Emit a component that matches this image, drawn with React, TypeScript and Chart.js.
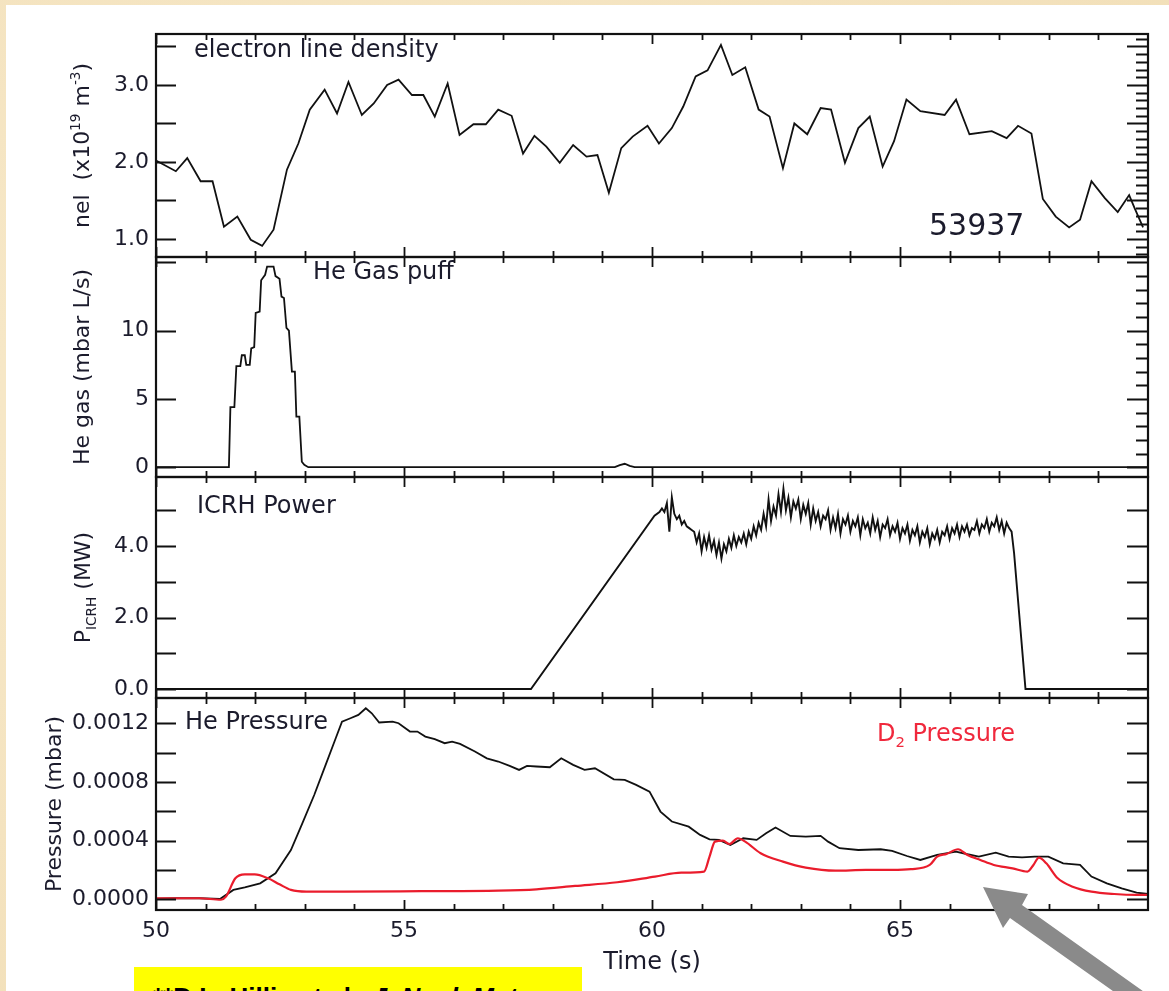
import React, { useEffect, useRef } from 'react';
import { Chart, registerables } from 'chart.js';

Chart.register(...registerables);

// ---------------- data ----------------
const TIME_MIN = 50;
const TIME_MAX = 70;
const TIME_TICKS = [50, 55, 60, 65];
const TIME_LABELS = ['50', '55', '60', '65'];
const TIME_MINOR = [51, 52, 53, 54, 56, 57, 58, 59, 61, 62, 63, 64, 66, 67, 68, 69];

// electron line density (1e19 m^-3)
const NEL_T = [50.0, 50.4, 50.63, 50.9, 51.14, 51.37, 51.64, 51.91, 52.14, 52.37, 52.64, 52.87, 53.1, 53.4, 53.65, 53.88, 54.15, 54.39, 54.66, 54.89, 55.16, 55.39, 55.62, 55.88, 56.12, 56.4, 56.65, 56.9, 57.17, 57.4, 57.63, 57.87, 58.14, 58.41, 58.68, 58.9, 59.13, 59.38, 59.61, 59.91, 60.14, 60.4, 60.63, 60.88, 61.12, 61.39, 61.62, 61.88, 62.15, 62.37, 62.64, 62.87, 63.13, 63.4, 63.61, 63.89, 64.16, 64.39, 64.65, 64.88, 65.13, 65.41, 65.9, 66.13, 66.4, 66.85, 67.15, 67.38, 67.65, 67.88, 68.14, 68.41, 68.63, 68.86, 69.13, 69.39, 69.62, 69.73, 69.9];
const NEL_V = [2.02, 1.88, 2.05, 1.75, 1.75, 1.16, 1.29, 0.99, 0.91, 1.12, 1.90, 2.24, 2.68, 2.94, 2.63, 3.04, 2.61, 2.76, 3.0, 3.07, 2.87, 2.87, 2.59, 3.02, 2.35, 2.49, 2.49, 2.68, 2.60, 2.11, 2.34, 2.20, 1.99, 2.22, 2.07, 2.09, 1.60, 2.18, 2.33, 2.47, 2.24, 2.44, 2.72, 3.11, 3.19, 3.52, 3.13, 3.23, 2.68, 2.59, 1.92, 2.50, 2.36, 2.70, 2.68, 1.99, 2.44, 2.59, 1.94, 2.27, 2.81, 2.66, 2.61, 2.81, 2.36, 2.40, 2.31, 2.47, 2.37, 1.52, 1.29, 1.15, 1.25, 1.75, 1.53, 1.35, 1.57, 1.40, 1.15];
const NEL_TICKS = [1.0, 1.5, 2.0, 2.5, 3.0, 3.5];
const NEL_LABELS = ['1.0', '', '2.0', '', '3.0', ''];
const NEL_MINOR = [0.8, 0.9, 1.1, 1.2, 1.3, 1.4, 1.6, 1.7, 1.8, 1.9, 2.1, 2.2, 2.3, 2.4, 2.6, 2.7, 2.8, 2.9, 3.1, 3.2, 3.3, 3.4, 3.6];

// He gas puff (mbar L/s)
const HEGAS_T = [50, 51.47, 51.5, 51.58, 51.62, 51.7, 51.73, 51.79, 51.82, 51.89, 51.92, 51.98, 52.01, 52.09, 52.12, 52.2, 52.24, 52.37, 52.41, 52.49, 52.53, 52.58, 52.63, 52.68, 52.74, 52.8, 52.83, 52.89, 52.94, 52.99, 53.07, 59.25, 59.35, 59.45, 59.55, 59.65, 70];
const HEGAS_V = [0, 0, 4.4, 4.4, 7.4, 7.4, 8.2, 8.2, 7.5, 7.5, 8.7, 8.8, 11.3, 11.4, 13.7, 14.1, 14.7, 14.7, 14.0, 13.8, 12.5, 12.4, 10.2, 10.0, 7.0, 7.0, 3.7, 3.7, 0.4, 0.17, 0, 0, 0.15, 0.25, 0.1, 0, 0];
const HEGAS_TICKS = [0, 5, 10, 15];
const HEGAS_LABELS = ['0', '5', '10', ''];
const HEGAS_MINOR = [1, 2, 3, 4, 6, 7, 8, 9, 11, 12, 13, 14];

// ICRH power (MW)
const ICRH_RAMP_T = [50, 57.56, 60.05, 60.15];
const ICRH_RAMP_V = [0, 0, 4.85, 4.95];
const ICRH_NOISE_START = 60.2;
const ICRH_NOISE_STEP = 0.05;
const ICRH_NOISE_V = [
  5.05, 4.95, 5.20, 4.40, 5.36, 4.90, 4.75, 4.85, 4.60, 4.70,
  4.55, 4.50, 4.45, 4.40, 4.10, 4.35, 3.85, 4.25, 3.95, 4.30,
  3.90, 4.15, 3.75, 4.10, 3.65, 4.05, 3.85, 4.20, 3.95, 4.30,
  4.00, 4.25, 4.10, 4.35, 4.05, 4.40, 4.20, 4.55, 4.30, 4.65,
  4.45, 4.90, 4.55, 5.30, 4.70, 5.10, 4.85, 5.45, 4.95, 5.60,
  5.00, 5.35, 4.80, 5.25, 5.05, 5.30, 4.75, 5.15, 4.90, 5.20,
  4.60, 5.05, 4.70, 4.95, 4.55, 4.85, 4.75, 5.00, 4.45, 4.80,
  4.50, 4.90, 4.35, 4.75, 4.60, 4.85, 4.40, 4.70, 4.55, 4.80,
  4.30, 4.75, 4.50, 4.65, 4.35, 4.80, 4.45, 4.70, 4.25, 4.60,
  4.50, 4.75, 4.30, 4.55, 4.40, 4.65, 4.20, 4.50, 4.35, 4.60,
  4.15, 4.45, 4.30, 4.55, 4.10, 4.40, 4.25, 4.50, 4.05, 4.35,
  4.20, 4.45, 4.10, 4.40, 4.30, 4.55, 4.20, 4.50, 4.35, 4.60,
  4.25, 4.55, 4.40, 4.60, 4.30, 4.50, 4.45, 4.70, 4.35, 4.60,
  4.50, 4.75, 4.40, 4.65, 4.55, 4.80, 4.45, 4.70, 4.35, 4.65,
  4.50, 4.40,
];
const ICRH_TAIL_T = [67.3, 67.53, 70];
const ICRH_TAIL_V = [3.8, 0, 0];
const ICRH_TICKS = [0, 1, 2, 3, 4, 5];
const ICRH_LABELS = ['0.0', '', '2.0', '', '4.0', ''];

// Pressures (mbar)
const HEP_T = [50, 50.4, 50.87, 51.29, 51.56, 51.79, 52.1, 52.41, 52.72, 52.95, 53.19, 53.42, 53.61, 53.75, 53.92, 54.08, 54.23, 54.35, 54.5, 54.77, 54.89, 55.12, 55.27, 55.43, 55.62, 55.82, 55.97, 56.13, 56.43, 56.67, 56.9, 57.13, 57.32, 57.48, 57.67, 57.94, 58.17, 58.41, 58.64, 58.85, 59.23, 59.45, 59.68, 59.95, 60.17, 60.4, 60.74, 60.97, 61.16, 61.35, 61.58, 61.84, 62.11, 62.3, 62.49, 62.79, 63.1, 63.4, 63.55, 63.78, 64.16, 64.61, 64.84, 65.14, 65.41, 65.75, 66.13, 66.36, 66.59, 66.93, 67.19, 67.46, 67.72, 67.99, 68.29, 68.63, 68.86, 69.17, 69.47, 69.77, 70];
const HEP_V = [0.05e-4, 0.07e-4, 0.07e-4, 0.02e-4, 0.64e-4, 0.82e-4, 1.09e-4, 1.77e-4, 3.36e-4, 5.18e-4, 7.11e-4, 9.16e-4, 10.86e-4, 12.11e-4, 12.34e-4, 12.57e-4, 13.02e-4, 12.68e-4, 12.05e-4, 12.11e-4, 12.0e-4, 11.43e-4, 11.43e-4, 11.09e-4, 10.91e-4, 10.64e-4, 10.75e-4, 10.59e-4, 10.07e-4, 9.61e-4, 9.39e-4, 9.09e-4, 8.82e-4, 9.09e-4, 9.05e-4, 9.0e-4, 9.61e-4, 9.16e-4, 8.82e-4, 8.93e-4, 8.18e-4, 8.14e-4, 7.8e-4, 7.34e-4, 5.98e-4, 5.3e-4, 4.95e-4, 4.39e-4, 4.09e-4, 4.05e-4, 3.7e-4, 4.16e-4, 4.05e-4, 4.5e-4, 4.89e-4, 4.32e-4, 4.27e-4, 4.32e-4, 3.93e-4, 3.48e-4, 3.36e-4, 3.41e-4, 3.30e-4, 2.95e-4, 2.68e-4, 3.02e-4, 3.25e-4, 3.07e-4, 2.91e-4, 3.18e-4, 2.91e-4, 2.86e-4, 2.91e-4, 2.91e-4, 2.45e-4, 2.34e-4, 1.55e-4, 1.09e-4, 0.75e-4, 0.45e-4, 0.36e-4];
const D2P_T = [50, 50.4, 50.87, 51.31, 51.41, 51.6, 51.79, 51.99, 52.26, 52.49, 52.72, 53.03, 53.8, 55.35, 56.9, 57.67, 58.45, 59.3, 60.06, 60.59, 61.05, 61.16, 61.27, 61.43, 61.56, 61.73, 61.88, 62.19, 62.64, 63.1, 63.7, 64.31, 64.84, 65.22, 65.6, 65.75, 65.94, 66.17, 66.36, 66.62, 66.89, 67.27, 67.57, 67.69, 67.8, 67.95, 68.18, 68.48, 68.86, 69.32, 69.77, 70];
const D2P_V = [0.07e-4, 0.07e-4, 0.07e-4, -0.03e-4, 0.18e-4, 1.43e-4, 1.70e-4, 1.70e-4, 1.43e-4, 1.02e-4, 0.64e-4, 0.52e-4, 0.52e-4, 0.55e-4, 0.59e-4, 0.68e-4, 0.91e-4, 1.16e-4, 1.55e-4, 1.82e-4, 1.89e-4, 2.91e-4, 3.93e-4, 4.0e-4, 3.77e-4, 4.16e-4, 3.93e-4, 3.14e-4, 2.57e-4, 2.16e-4, 1.95e-4, 2.0e-4, 2.0e-4, 2.05e-4, 2.34e-4, 2.91e-4, 3.09e-4, 3.41e-4, 3.02e-4, 2.68e-4, 2.34e-4, 2.11e-4, 1.89e-4, 2.34e-4, 2.84e-4, 2.45e-4, 1.43e-4, 0.86e-4, 0.52e-4, 0.36e-4, 0.30e-4, 0.30e-4];
const PRES_TICKS = [0, 0.0002, 0.0004, 0.0006, 0.0008, 0.001, 0.0012];
const PRES_LABELS = ['0.0000', '', '0.0004', '', '0.0008', '', '0.0012'];

// ---------------- layout / style ----------------
const W = 1169;
const H = 991;
const PLOT_LEFT = 156;
const PLOT_RIGHT = 1148;
const PANEL_BOXES = [
  { top: 34, bottom: 257 },
  { top: 257, bottom: 477 },
  { top: 477, bottom: 698 },
  { top: 698, bottom: 910 },
];
const FAMILY = '"DejaVu Sans", "Liberation Sans", sans-serif';
const TEXT_COLOR = '#1b1b2c';
const LINE_BLACK = '#111111';
const LINE_RED = '#ea1c2c';

type Seg = { t: string; sup?: boolean; sub?: boolean };
type TextSpec = { segs: Seg[]; x: number; y: number; size: number; color: string };
type PanelSpec = {
  panel: number;
  datasets: any[];
  yMin: number;
  yMax: number;
  yTicks: number[];
  yLabels: string[];
  yMinor: number[];
  yTitle: { segs: Seg[]; x: number; size: number };
  texts: TextSpec[];
};

const pts = (ts: number[], vs: number[]) => ts.map((t, i) => ({ x: t, y: vs[i] }));

function icrhPoints() {
  const out = pts(ICRH_RAMP_T, ICRH_RAMP_V);
  ICRH_NOISE_V.forEach((v, i) => {
    out.push({ x: Math.round((ICRH_NOISE_START + i * ICRH_NOISE_STEP) * 1000) / 1000, y: v });
  });
  return out.concat(pts(ICRH_TAIL_T, ICRH_TAIL_V));
}

function labelFor(ticks: number[], labels: string[], value: number) {
  const i = ticks.findIndex((t) => Math.abs(t - value) < 1e-9);
  return i >= 0 ? labels[i] : '';
}

function drawRich(ctx: CanvasRenderingContext2D, segs: Seg[], size: number, color: string, center: boolean) {
  const small = size * 0.62;
  const widths = segs.map((s) => {
    ctx.font = `${s.sup || s.sub ? small : size}px ${FAMILY}`;
    return ctx.measureText(s.t).width;
  });
  const total = widths.reduce((a, b) => a + b, 0);
  let x = center ? -total / 2 : 0;
  ctx.fillStyle = color;
  ctx.textAlign = 'left';
  ctx.textBaseline = 'alphabetic';
  segs.forEach((s, i) => {
    ctx.font = `${s.sup || s.sub ? small : size}px ${FAMILY}`;
    const dy = s.sup ? -size * 0.42 : s.sub ? size * 0.26 : 0;
    ctx.fillText(s.t, x, dy);
    x += widths[i];
  });
}

function decorPlugin(spec: PanelSpec) {
  return {
    id: 'decor' + spec.panel,
    afterDraw(chart: any) {
      const { ctx, chartArea: a, scales } = chart;
      const xs = scales.x;
      const ys = scales.y;
      ctx.save();
      // inward ticks
      ctx.strokeStyle = '#111';
      ctx.lineWidth = 1.8;
      ctx.beginPath();
      spec.yTicks.forEach((v) => {
        const p = Math.round(ys.getPixelForValue(v)) + 0.5;
        ctx.moveTo(a.left, p);
        ctx.lineTo(a.left + 20, p);
        ctx.moveTo(a.right, p);
        ctx.lineTo(a.right - 21, p);
      });
      spec.yMinor.forEach((v) => {
        const p = Math.round(ys.getPixelForValue(v)) + 0.5;
        ctx.moveTo(a.right, p);
        ctx.lineTo(a.right - 12, p);
      });
      TIME_TICKS.forEach((v) => {
        const p = Math.round(xs.getPixelForValue(v)) + 0.5;
        ctx.moveTo(p, a.top);
        ctx.lineTo(p, a.top + 10);
        ctx.moveTo(p, a.bottom);
        ctx.lineTo(p, a.bottom - 10);
      });
      TIME_MINOR.forEach((v) => {
        const p = Math.round(xs.getPixelForValue(v)) + 0.5;
        ctx.moveTo(p, a.top);
        ctx.lineTo(p, a.top + 6);
        ctx.moveTo(p, a.bottom);
        ctx.lineTo(p, a.bottom - 6);
      });
      ctx.stroke();
      // frame
      ctx.lineWidth = 2.2;
      ctx.strokeRect(a.left, a.top, a.right - a.left, a.bottom - a.top);
      // panel texts
      spec.texts.forEach((t) => {
        ctx.save();
        ctx.translate(t.x, t.y);
        drawRich(ctx, t.segs, t.size, t.color, false);
        ctx.restore();
      });
      // y title (rotated)
      ctx.save();
      ctx.translate(spec.yTitle.x, (a.top + a.bottom) / 2);
      ctx.rotate(-Math.PI / 2);
      drawRich(ctx, spec.yTitle.segs, spec.yTitle.size, TEXT_COLOR, true);
      ctx.restore();
      ctx.restore();
    },
  };
}

function buildConfig(spec: PanelSpec): any {
  const box = PANEL_BOXES[spec.panel];
  const isBottom = spec.panel === PANEL_BOXES.length - 1;
  const xScale = isBottom
    ? {
        type: 'linear',
        min: TIME_MIN,
        max: TIME_MAX,
        afterBuildTicks: (s: any) => {
          s.ticks = TIME_TICKS.map((v) => ({ value: v }));
        },
        afterFit: (s: any) => {
          s.height = H - box.bottom;
        },
        ticks: {
          callback: (v: number) => labelFor(TIME_TICKS, TIME_LABELS, v),
          font: { family: FAMILY, size: 22 },
          color: TEXT_COLOR,
          padding: 8,
          maxRotation: 0,
          autoSkip: false,
        },
        grid: { display: false, drawTicks: false },
        border: { display: false },
        title: {
          display: true,
          text: 'Time (s)',
          font: { family: FAMILY, size: 24 },
          color: TEXT_COLOR,
          padding: { top: 0, bottom: 14 },
        },
      }
    : { type: 'linear', min: TIME_MIN, max: TIME_MAX, display: false };
  return {
    type: 'line',
    data: { datasets: spec.datasets },
    options: {
      responsive: false,
      animation: false,
      events: [],
      layout: {
        padding: { top: box.top, bottom: isBottom ? 0 : H - box.bottom, left: 0, right: W - PLOT_RIGHT },
      },
      plugins: { legend: { display: false }, tooltip: { enabled: false } },
      elements: { point: { radius: 0 } },
      scales: {
        x: xScale,
        y: {
          type: 'linear',
          min: spec.yMin,
          max: spec.yMax,
          afterBuildTicks: (s: any) => {
            s.ticks = spec.yTicks.map((v) => ({ value: v }));
          },
          afterFit: (s: any) => {
            s.width = PLOT_LEFT;
          },
          ticks: {
            callback: (v: number) => labelFor(spec.yTicks, spec.yLabels, v),
            font: { family: FAMILY, size: 22 },
            color: TEXT_COLOR,
            padding: 7,
            autoSkip: false,
          },
          grid: { display: false, drawTicks: false },
          border: { display: false },
        },
      },
    },
    plugins: [decorPlugin(spec)],
  };
}

const blackLine = (data: any[], width = 1.8) => ({
  data,
  borderColor: LINE_BLACK,
  borderWidth: width,
  pointRadius: 0,
  tension: 0,
  fill: false,
});

const PANEL_SPECS: PanelSpec[] = [
  {
    panel: 0,
    datasets: [blackLine(pts(NEL_T, NEL_V))],
    yMin: 0.766,
    yMax: 3.662,
    yTicks: NEL_TICKS,
    yLabels: NEL_LABELS,
    yMinor: NEL_MINOR,
    yTitle: {
      segs: [{ t: 'nel  (x10' }, { t: '19', sup: true }, { t: ' m' }, { t: '-3', sup: true }, { t: ')' }],
      x: 89,
      size: 22,
    },
    texts: [
      { segs: [{ t: 'electron line density' }], x: 194, y: 57, size: 24, color: TEXT_COLOR },
      { segs: [{ t: '53937' }], x: 929, y: 235, size: 30, color: TEXT_COLOR },
    ],
  },
  {
    panel: 1,
    datasets: [blackLine(pts(HEGAS_T, HEGAS_V))],
    yMin: -0.72,
    yMax: 15.4,
    yTicks: HEGAS_TICKS,
    yLabels: HEGAS_LABELS,
    yMinor: HEGAS_MINOR,
    yTitle: { segs: [{ t: 'He gas (mbar L/s)' }], x: 89, size: 22 },
    texts: [{ segs: [{ t: 'He Gas puff' }], x: 313, y: 279, size: 24, color: TEXT_COLOR }],
  },
  {
    panel: 2,
    datasets: [blackLine(icrhPoints(), 1.9)],
    yMin: -0.25,
    yMax: 5.93,
    yTicks: ICRH_TICKS,
    yLabels: ICRH_LABELS,
    yMinor: [],
    yTitle: { segs: [{ t: 'P' }, { t: 'ICRH', sub: true }, { t: ' (MW)' }], x: 90, size: 22 },
    texts: [{ segs: [{ t: 'ICRH Power' }], x: 197, y: 513, size: 24, color: TEXT_COLOR }],
  },
  {
    panel: 3,
    datasets: [
      {
        data: pts(D2P_T, D2P_V),
        borderColor: LINE_RED,
        borderWidth: 2.2,
        pointRadius: 0,
        cubicInterpolationMode: 'monotone',
        fill: false,
      },
      blackLine(pts(HEP_T, HEP_V)),
    ],
    yMin: -0.000073,
    yMax: 0.001372,
    yTicks: PRES_TICKS,
    yLabels: PRES_LABELS,
    yMinor: [],
    yTitle: { segs: [{ t: 'Pressure (mbar)' }], x: 61, size: 22 },
    texts: [
      { segs: [{ t: 'He Pressure' }], x: 185, y: 729, size: 24, color: TEXT_COLOR },
      { segs: [{ t: 'D' }, { t: '2', sub: true }, { t: ' Pressure' }], x: 877, y: 741, size: 24, color: '#f0283c' },
    ],
  },
];

export default function App() {
  const refs = [useRef<HTMLCanvasElement>(null), useRef<HTMLCanvasElement>(null), useRef<HTMLCanvasElement>(null), useRef<HTMLCanvasElement>(null)];
  useEffect(() => {
    const charts = PANEL_SPECS.map((spec, i) => new Chart(refs[i].current as HTMLCanvasElement, buildConfig(spec)));
    return () => charts.forEach((c) => c.destroy());
  }, []);

  return (
    <div
      style={{
        position: 'absolute',
        left: 0,
        top: 0,
        width: W,
        height: H,
        overflow: 'hidden',
        background: 'radial-gradient(ellipse at 30% 40%, #f8ebcd 0%, #f4e3bf 60%, #f1deb6 100%)',
      }}
    >
      <div style={{ position: 'absolute', left: 6, top: 5, width: W - 6, height: H - 5, background: '#ffffff' }} />
      {refs.map((r, i) => (
        <canvas key={i} ref={r} width={W} height={H} style={{ position: 'absolute', left: 0, top: 0, width: W, height: H }} />
      ))}
      <div
        style={{
          position: 'absolute',
          left: 134,
          top: 967,
          width: 448,
          height: 60,
          background: '#ffff00',
          boxSizing: 'border-box',
          paddingTop: 17,
          paddingLeft: 19,
          fontFamily: '"Liberation Sans", Arial, sans-serif',
          fontWeight: 'bold',
          fontSize: 26,
          lineHeight: '26px',
          color: '#000',
          whiteSpace: 'nowrap',
        }}
      >
        **D.L. Hillis et al., <i>J. Nucl. Mater.</i>
      </div>
      <svg width={W} height={H} style={{ position: 'absolute', left: 0, top: 0 }}>
        <polygon
          points="983,887 1028,894 1022,905 1192,1026 1182,1040 1010,918 1003,928"
          fill="#8a8a8a"
        />
      </svg>
    </div>
  );
}
